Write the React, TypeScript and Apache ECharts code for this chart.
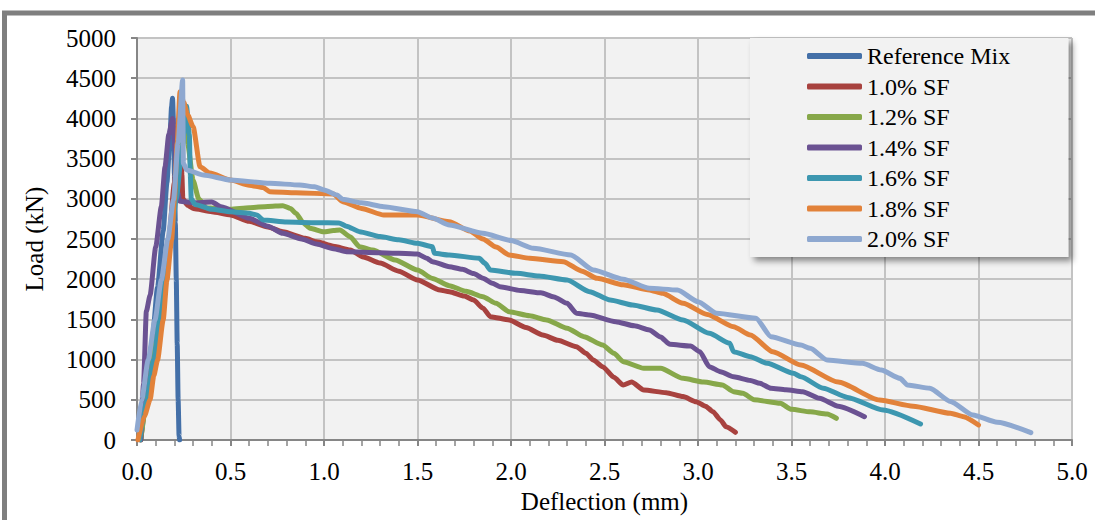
import React, { useEffect, useRef } from "react";
import * as echarts from "echarts";

const seriesNames = ["Reference Mix", "1.0% SF", "1.2% SF", "1.4% SF", "1.6% SF", "1.8% SF", "2.0% SF"];
const seriesColors = ["#4470A8", "#A8423F", "#87A84A", "#6B5292", "#3D97B0", "#E2823A", "#8EA8D0"];

const xTicks = [0, 0.5, 1, 1.5, 2, 2.5, 3, 3.5, 4, 4.5, 5];
const yTicks = [0, 500, 1000, 1500, 2000, 2500, 3000, 3500, 4000, 4500, 5000];

const refMix = [
  [0.02, 0], [0.05, 600], [0.08, 1200], [0.11, 1900], [0.14, 2600], [0.16, 3200], [0.175, 3700],
  [0.185, 4150], [0.19, 4250], [0.196, 3900], [0.2, 3300], [0.205, 2700], [0.21, 2000],
  [0.215, 1200], [0.22, 500], [0.225, 50], [0.228, 0],
];

const sf10 = [
  [0.02, 0], [0.05, 500], [0.09, 1000], [0.12, 1500], [0.15, 2000], [0.17, 2500], [0.2, 3200],
  [0.225, 4000], [0.235, 3700], [0.24, 3300], [0.245, 3000], [0.27, 2920], [0.3, 2880], [0.4, 2840],
  [0.5, 2800], [0.6, 2720], [0.7, 2650], [0.78, 2590], [0.9, 2510], [0.96, 2466], [1.05, 2410],
  [1.14, 2363], [1.21, 2276], [1.3, 2200], [1.4, 2100], [1.5, 1990], [1.62, 1866], [1.67, 1845],
  [1.75, 1790], [1.8, 1741], [1.85, 1640], [1.89, 1534], [1.99, 1493], [2.08, 1400], [2.17, 1306],
  [2.25, 1240], [2.35, 1161], [2.4, 1080], [2.44, 995], [2.49, 912], [2.55, 780], [2.6, 684],
  [2.645, 721], [2.71, 622], [2.83, 588], [2.92, 540], [2.99, 476], [3.04, 420], [3.08, 352],
  [3.12, 250], [3.15, 165], [3.2, 96],
];

const sf12 = [
  [0.02, 0], [0.06, 600], [0.1, 1200], [0.14, 1800], [0.17, 2400], [0.2, 3000], [0.23, 3600],
  [0.25, 4100], [0.27, 3700], [0.3, 3230], [0.33, 3000], [0.37, 2890], [0.5, 2870], [0.6, 2890],
  [0.7, 2905], [0.78, 2914], [0.82, 2880], [0.85, 2820], [0.89, 2700], [0.925, 2633], [1.0, 2590],
  [1.05, 2605], [1.085, 2612], [1.14, 2529], [1.19, 2404], [1.26, 2363], [1.38, 2240], [1.5, 2114],
  [1.58, 2010], [1.67, 1920], [1.76, 1850], [1.85, 1783], [1.92, 1700], [1.99, 1596], [2.1, 1545],
  [2.19, 1493], [2.3, 1390], [2.39, 1285], [2.49, 1182], [2.55, 1080], [2.6, 974], [2.71, 892],
  [2.8, 892], [2.92, 767], [3.03, 720], [3.13, 684], [3.19, 601], [3.24, 580], [3.3, 500],
  [3.44, 456], [3.5, 381], [3.6, 350], [3.69, 323], [3.74, 270],
];

const sf14 = [
  [0.02, 0], [0.035, 700], [0.05, 1600], [0.07, 1800], [0.1, 2400], [0.13, 2900], [0.15, 3400],
  [0.17, 3800], [0.19, 4000], [0.205, 3600], [0.215, 3100], [0.23, 2970], [0.3, 2950], [0.4, 2960],
  [0.45, 2900], [0.6, 2757], [0.7, 2660], [0.78, 2570], [0.88, 2500], [0.96, 2438], [1.05, 2380],
  [1.12, 2342], [1.3, 2330], [1.5, 2313], [1.55, 2260], [1.58, 2218], [1.67, 2156], [1.74, 2123],
  [1.8, 2070], [1.85, 2011], [1.9, 1950], [1.94, 1907], [2.05, 1860], [2.16, 1830], [2.23, 1780],
  [2.3, 1700], [2.35, 1576], [2.42, 1555], [2.56, 1472], [2.66, 1420], [2.74, 1368], [2.8, 1280],
  [2.85, 1190], [2.96, 1169], [3.01, 1098], [3.06, 912], [3.12, 850], [3.19, 787], [3.28, 740],
  [3.33, 705], [3.39, 643], [3.47, 625], [3.56, 601], [3.65, 518], [3.75, 420], [3.89, 290],
];

const sf16 = [
  [0.015, 0], [0.05, 500], [0.09, 1000], [0.12, 1500], [0.15, 2000], [0.18, 2500], [0.21, 3000],
  [0.24, 3600], [0.265, 4150], [0.28, 3800], [0.285, 3300], [0.29, 3000], [0.31, 2930], [0.4, 2870],
  [0.5, 2840], [0.6, 2820], [0.64, 2800], [0.675, 2736], [0.8, 2710], [0.96, 2703], [1.08, 2700],
  [1.12, 2660], [1.19, 2591], [1.3, 2530], [1.4, 2490], [1.5, 2446], [1.58, 2404], [1.59, 2322],
  [1.67, 2301], [1.83, 2260], [1.86, 2200], [1.89, 2114], [2.03, 2073], [2.15, 2040], [2.3, 1990],
  [2.42, 1845], [2.53, 1741], [2.65, 1680], [2.78, 1617], [2.92, 1493], [3.06, 1327], [3.17, 1203],
  [3.19, 1098], [3.28, 1036], [3.37, 954], [3.51, 829], [3.55, 787], [3.67, 643], [3.8, 530],
  [3.99, 373], [4.19, 199],
];

const sf18 = [
  [0.005, 0], [0.04, 300], [0.07, 500], [0.09, 800], [0.11, 995], [0.14, 1493], [0.16, 1990],
  [0.185, 2488], [0.2, 2985], [0.215, 3700], [0.23, 4330], [0.25, 4200], [0.27, 4050], [0.3, 3897],
  [0.337, 3400], [0.39, 3320], [0.5, 3234], [0.6, 3170], [0.675, 3140], [0.71, 3088], [0.85, 3075],
  [1.05, 3060], [1.1, 2964], [1.2, 2880], [1.32, 2798], [1.5, 2798], [1.67, 2715], [1.78, 2600],
  [1.85, 2500], [1.92, 2400], [1.99, 2301], [2.1, 2260], [2.28, 2218], [2.38, 2100], [2.46, 2011],
  [2.6, 1930], [2.74, 1866], [2.81, 1824], [2.92, 1700], [3.05, 1560], [3.19, 1409], [3.28, 1306],
  [3.4, 1098], [3.55, 933], [3.75, 720], [3.97, 497], [4.15, 420], [4.35, 332], [4.42, 290],
  [4.5, 187],
];

const sf20 = [
  [0.0, 124], [0.025, 498], [0.06, 995], [0.096, 1493], [0.13, 1990], [0.165, 2500], [0.195, 2985],
  [0.22, 3700], [0.244, 4478], [0.248, 3441], [0.266, 3358], [0.355, 3296], [0.5, 3234],
  [0.71, 3193], [0.87, 3172], [0.95, 3150], [1.0, 3110], [1.07, 3047], [1.1, 2993], [1.2, 2950],
  [1.32, 2902], [1.5, 2840], [1.58, 2760], [1.67, 2674], [1.85, 2570], [2.0, 2480], [2.12, 2384],
  [2.32, 2301], [2.44, 2114], [2.6, 2000], [2.74, 1887], [2.89, 1866], [3.0, 1720], [3.1, 1576],
  [3.31, 1514], [3.39, 1285], [3.55, 1182], [3.6, 1140], [3.69, 995], [3.88, 954], [3.98, 870],
  [4.08, 767], [4.12, 684], [4.24, 643], [4.35, 480], [4.47, 311], [4.6, 220], [4.78, 91],
];

const seriesData = [refMix, sf10, sf12, sf14, sf16, sf18, sf20];

const FONT = "'Liberation Serif', 'Times New Roman', serif";

export default function App() {
  const ref = useRef<HTMLDivElement>(null);

  useEffect(() => {
    document.body.style.margin = "0";
    if (!ref.current) return;
    const chart = echarts.init(ref.current, undefined, { renderer: "svg" });
    const axisColor = "#868686";
    const gridColor = "#c3c3c3";
    chart.setOption({
      animation: false,
      backgroundColor: "#ffffff",
      textStyle: { fontFamily: FONT },
      graphic: [
        {
          type: "rect",
          shape: { x: 4.5, y: 13, width: 1300, height: 700 },
          style: { fill: "none", stroke: "#7f7f7f", lineWidth: 5 },
          silent: true,
          z: 100,
        },
      ],
      grid: {
        left: 137,
        top: 38,
        width: 935,
        height: 402,
        show: true,
        backgroundColor: "#f2f2f2",
        borderWidth: 0,
      },
      legend: {
        orient: "vertical",
        left: 750,
        top: 38,
        padding: [6, 58, 6, 57],
        itemWidth: 55,
        itemHeight: 6,
        itemGap: 6.5,
        icon: "roundRect",
        backgroundColor: "#f2f2f2",
        shadowBlur: 6,
        shadowOffsetX: 4,
        shadowOffsetY: 4,
        shadowColor: "rgba(0,0,0,0.45)",
        textStyle: { fontFamily: FONT, fontSize: 24, lineHeight: 24, color: "#000" },
        data: seriesNames,
      },
      xAxis: {
        type: "value",
        min: xTicks[0],
        max: xTicks[xTicks.length - 1],
        interval: 0.5,
        name: "Deflection (mm)",
        nameLocation: "middle",
        nameGap: 48,
        nameTextStyle: { fontFamily: FONT, fontSize: 25, color: "#000" },
        axisLine: { show: true, lineStyle: { color: axisColor, width: 2 } },
        axisTick: { show: true, length: 6, lineStyle: { color: axisColor, width: 2 } },
        minorTick: { show: true, splitNumber: 5, length: 6, lineStyle: { color: axisColor, width: 1.5 } },
        axisLabel: {
          margin: 19,
          fontFamily: FONT,
          fontSize: 25,
          color: "#000",
          formatter: (v: number) => v.toFixed(1),
        },
        splitLine: { show: true, lineStyle: { color: gridColor, width: 2 } },
      },
      yAxis: {
        type: "value",
        min: yTicks[0],
        max: yTicks[yTicks.length - 1],
        interval: 500,
        name: "Load (kN)",
        nameLocation: "middle",
        nameGap: 90,
        nameTextStyle: { fontFamily: FONT, fontSize: 25, color: "#000" },
        axisLine: { show: true, lineStyle: { color: axisColor, width: 2 } },
        axisTick: { show: true, length: 6, lineStyle: { color: axisColor, width: 2 } },
        axisLabel: {
          margin: 21,
          fontFamily: FONT,
          fontSize: 25,
          color: "#000",
          formatter: (v: number) => String(v),
        },
        splitLine: { show: true, lineStyle: { color: gridColor, width: 2 } },
      },
      series: seriesData.map((d, i) => ({
        name: seriesNames[i],
        type: "line",
        data: d,
        showSymbol: false,
        symbol: "none",
        smooth: 0.2,
        smoothMonotone: "x",
        color: seriesColors[i],
        lineStyle: { width: 5, color: seriesColors[i], cap: "round", join: "round" },
        z: 2 + i,
      })),
    });
    return () => chart.dispose();
  }, []);

  return <div ref={ref} style={{ width: 1095, height: 520 }} />;
}
